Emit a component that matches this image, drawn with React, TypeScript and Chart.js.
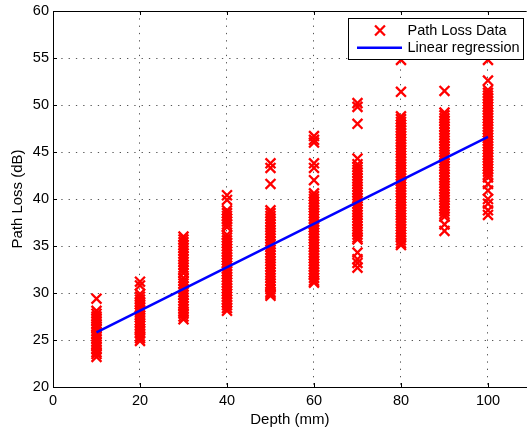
import React, { useEffect, useRef } from 'react';
import { Chart, registerables } from 'chart.js';

Chart.register(...registerables);

// ---- data ----
const depths = [10, 20, 30, 40, 50, 60, 70, 80, 90, 100];

const loss10 = [29.4, 28.1, 27.8, 27.5, 27.3, 27.0, 26.7, 26.4, 26.2, 25.9, 25.6, 25.4, 25.1, 24.8, 24.5, 24.3, 24.0, 23.7, 23.5, 23.2];
const loss20 = [31.2, 30.8, 29.9, 29.6, 29.3, 29.0, 28.8, 28.5, 28.2, 27.9, 27.6, 27.4, 27.1, 26.8, 26.5, 26.2, 26.0, 25.7, 25.4, 25.2, 24.9];
const loss30 = [36.0, 35.7, 35.4, 35.1, 34.8, 34.5, 34.2, 33.9, 33.6, 33.3, 33.0, 32.7, 32.4, 32.1, 31.6, 31.3, 31.0, 30.7, 30.4, 30.1, 29.8, 29.5, 29.2, 28.9, 28.6, 28.3, 28.0, 27.8, 27.5, 27.2];
const loss40 = [40.4, 39.9, 38.8, 38.5, 38.2, 37.9, 37.6, 37.3, 37.0, 36.2, 35.9, 35.6, 35.3, 35.0, 34.7, 34.4, 34.1, 33.8, 33.5, 33.2, 32.9, 32.6, 32.3, 32.0, 31.7, 31.4, 31.1, 30.8, 30.5, 30.2, 29.9, 29.6, 29.3, 29.0, 28.7, 28.4, 28.1];
const loss50 = [43.8, 43.3, 41.6, 38.8, 38.5, 38.2, 37.9, 37.6, 37.3, 37.0, 36.7, 36.4, 36.1, 35.8, 35.5, 35.2, 34.9, 34.6, 34.3, 34.0, 33.7, 33.4, 33.1, 32.8, 32.5, 32.2, 31.9, 31.6, 31.3, 31.0, 30.7, 30.4, 30.1, 29.9, 29.7];
const loss60 = [46.7, 46.3, 46.0, 43.8, 43.3, 42.0, 40.6, 40.3, 40.0, 39.7, 39.4, 39.1, 38.8, 38.5, 38.2, 37.9, 37.6, 37.3, 37.0, 36.7, 36.4, 36.1, 35.8, 35.5, 35.2, 34.9, 34.6, 34.3, 34.0, 33.7, 33.4, 33.1, 32.8, 32.5, 32.2, 31.9, 31.6, 31.3, 31.1];
const loss70 = [50.2, 49.8, 48.0, 44.3, 43.7, 43.4, 43.1, 42.8, 42.5, 42.2, 41.9, 41.6, 41.3, 41.0, 40.7, 40.4, 40.1, 39.8, 39.5, 39.2, 38.9, 38.6, 38.3, 38.0, 37.7, 37.4, 37.1, 36.8, 36.5, 36.2, 35.9, 35.7, 34.3, 33.6, 33.2, 32.7];
const loss80 = [54.8, 51.4, 48.8, 48.5, 48.2, 47.9, 47.6, 47.3, 47.0, 46.7, 46.4, 46.1, 45.8, 45.5, 45.2, 44.9, 44.6, 44.3, 44.0, 43.7, 43.4, 43.1, 42.8, 42.5, 42.2, 41.9, 41.6, 41.3, 41.0, 40.7, 40.4, 40.1, 39.8, 39.5, 39.2, 38.9, 38.6, 38.3, 38.0, 37.7, 37.4, 37.1, 36.8, 36.5, 36.2, 35.9, 35.6, 35.3, 35.1];
const loss90 = [51.5, 49.2, 48.9, 48.6, 48.3, 48.0, 47.7, 47.4, 47.1, 46.8, 46.5, 46.2, 45.9, 45.6, 45.3, 45.0, 44.7, 44.4, 44.1, 43.8, 43.5, 43.2, 42.9, 42.6, 42.3, 42.0, 41.7, 41.4, 41.1, 40.8, 40.5, 40.2, 39.9, 39.6, 39.3, 39.0, 38.7, 38.4, 38.1, 37.3, 36.6];
const loss100 = [54.8, 52.6, 51.6, 51.3, 51.0, 50.7, 50.4, 50.1, 49.8, 49.5, 49.2, 48.9, 48.6, 48.3, 48.0, 47.7, 47.4, 47.1, 46.8, 46.5, 46.2, 45.9, 45.6, 45.3, 45.0, 44.7, 44.4, 44.1, 43.8, 43.5, 43.2, 42.9, 42.6, 42.3, 41.6, 40.9, 40.0, 39.5, 38.8, 38.3];

const lossByDepth = [loss10, loss20, loss30, loss40, loss50, loss60, loss70, loss80, loss90, loss100];

const regX = [10, 100];
const regY = [25.8, 46.6];

const xTicks = [0, 20, 40, 60, 80, 100];
const yTicks = [20, 25, 30, 35, 40, 45, 50, 55, 60];

const seriesLabels = ['Path Loss Data', 'Linear regression'];
const xTitle = 'Depth (mm)';
const yTitle = 'Path Loss (dB)';

const FONT = '"Liberation Sans", Arial, Helvetica, sans-serif';

const framePlugin = {
  id: 'matlabFrame',
  afterDatasetsDraw(chart: any) {
    const { ctx, chartArea: a, scales } = chart;
    ctx.save();
    ctx.strokeStyle = '#000';
    ctx.lineWidth = 1;
    const line = (x1: number, y1: number, x2: number, y2: number) => {
      ctx.beginPath();
      ctx.moveTo(x1, y1);
      ctx.lineTo(x2, y2);
      ctx.stroke();
    };
    // top border
    line(a.left, Math.round(a.top) + 0.5, a.right, Math.round(a.top) + 0.5);
    const tl = 4;
    scales.x.ticks.forEach((t: any) => {
      const px = Math.round(scales.x.getPixelForValue(t.value)) + 0.5;
      line(px, a.bottom, px, a.bottom - tl);
      line(px, a.top, px, a.top + tl);
    });
    scales.y.ticks.forEach((t: any) => {
      const py = Math.round(scales.y.getPixelForValue(t.value)) + 0.5;
      line(a.left, py, a.left + tl, py);
    });
    ctx.restore();
  },
  afterDraw(chart: any) {
    const { ctx } = chart;
    ctx.save();
    // legend box
    const bx = 348, by = 18, bw = 175, bh = 41;
    ctx.fillStyle = '#fff';
    ctx.fillRect(bx, by, bw, bh);
    ctx.strokeStyle = '#000';
    ctx.lineWidth = 1;
    ctx.strokeRect(bx + 0.5, by + 0.5, bw, bh);
    // marker
    const mx = 380, my = 30.5, r = 7 * Math.cos(Math.PI / 4);
    ctx.strokeStyle = '#ff0000';
    ctx.lineWidth = 2.3;
    ctx.beginPath();
    ctx.moveTo(mx - r, my - r);
    ctx.lineTo(mx + r, my + r);
    ctx.moveTo(mx - r, my + r);
    ctx.lineTo(mx + r, my - r);
    ctx.stroke();
    // line
    ctx.strokeStyle = '#0000ff';
    ctx.lineWidth = 2.5;
    ctx.beginPath();
    ctx.moveTo(357, 47.7);
    ctx.lineTo(402, 47.7);
    ctx.stroke();
    // texts
    ctx.fillStyle = '#000';
    ctx.font = `14.5px ${FONT}`;
    ctx.textBaseline = 'middle';
    ctx.textAlign = 'left';
    ctx.fillText(seriesLabels[0], 407.5, 30.5);
    ctx.fillText(seriesLabels[1], 407.5, 47.5);
    ctx.restore();
  },
};

export default function App() {
  const ref = useRef<HTMLCanvasElement>(null);

  useEffect(() => {
    if (!ref.current) return;
    const scatterPoints: { x: number; y: number }[] = [];
    depths.forEach((d, i) => {
      lossByDepth[i].forEach((v) => scatterPoints.push({ x: d, y: v }));
    });
    const regPoints = regX.map((x, i) => ({ x, y: regY[i] }));

    const chart = new Chart(ref.current, {
      type: 'scatter',
      data: {
        datasets: [
          {
            type: 'line',
            label: seriesLabels[1],
            data: regPoints,
            borderColor: '#0000ff',
            backgroundColor: '#0000ff',
            borderWidth: 2.5,
            pointRadius: 0,
            showLine: true,
            fill: false,
            order: 0,
          } as any,
          {
            label: seriesLabels[0],
            data: scatterPoints,
            pointStyle: 'crossRot',
            pointRadius: 7,
            pointBorderWidth: 2.3,
            borderColor: '#ff0000',
            backgroundColor: '#ff0000',
            order: 1,
          } as any,
        ],
      },
      options: {
        animation: false,
        responsive: false,
        devicePixelRatio: 1,
        layout: { padding: { top: 11, right: 0, left: 0, bottom: 0 } },
        plugins: {
          legend: { display: false },
          tooltip: { enabled: false },
        },
        scales: {
          x: {
            type: 'linear',
            min: 0,
            max: 108.9,
            afterFit: (s: any) => { s.height = 43; s.paddingRight = 0; s.paddingLeft = 0; },
            afterBuildTicks: (s: any) => { s.ticks = xTicks.map((v) => ({ value: v })); },
            ticks: {
              stepSize: 20,
              font: { family: FONT, size: 14.5 },
              color: '#000',
              padding: 5,
              maxRotation: 0,
            },
            grid: { color: '#555', drawTicks: false, lineWidth: 1 },
            border: { display: true, color: '#000', width: 1, dash: [1.3, 6] },
            title: {
              display: true,
              text: xTitle,
              font: { family: FONT, size: 15 },
              color: '#000',
              padding: { top: 0, bottom: 1 },
            },
          },
          y: {
            type: 'linear',
            min: 20,
            max: 60,
            afterFit: (s: any) => { s.width = 53; s.paddingTop = 0; s.paddingBottom = 0; },
            afterBuildTicks: (s: any) => { s.ticks = yTicks.map((v) => ({ value: v })); },
            ticks: {
              stepSize: 5,
              font: { family: FONT, size: 14.5 },
              color: '#000',
              padding: 4,
            },
            grid: { color: '#555', drawTicks: false, lineWidth: 1 },
            border: { display: true, color: '#000', width: 1, dash: [1.3, 6] },
            title: {
              display: true,
              text: yTitle,
              font: { family: FONT, size: 15 },
              color: '#000',
              padding: { top: 9, bottom: 0 },
            },
          },
        },
      },
      plugins: [framePlugin],
    });
    return () => chart.destroy();
  }, []);

  return (
    <div style={{ position: 'absolute', left: 0, top: 0, width: 527, height: 430, overflow: 'hidden', background: '#fff' }}>
      <canvas ref={ref} width={536} height={430} style={{ display: 'block' }} />
    </div>
  );
}
